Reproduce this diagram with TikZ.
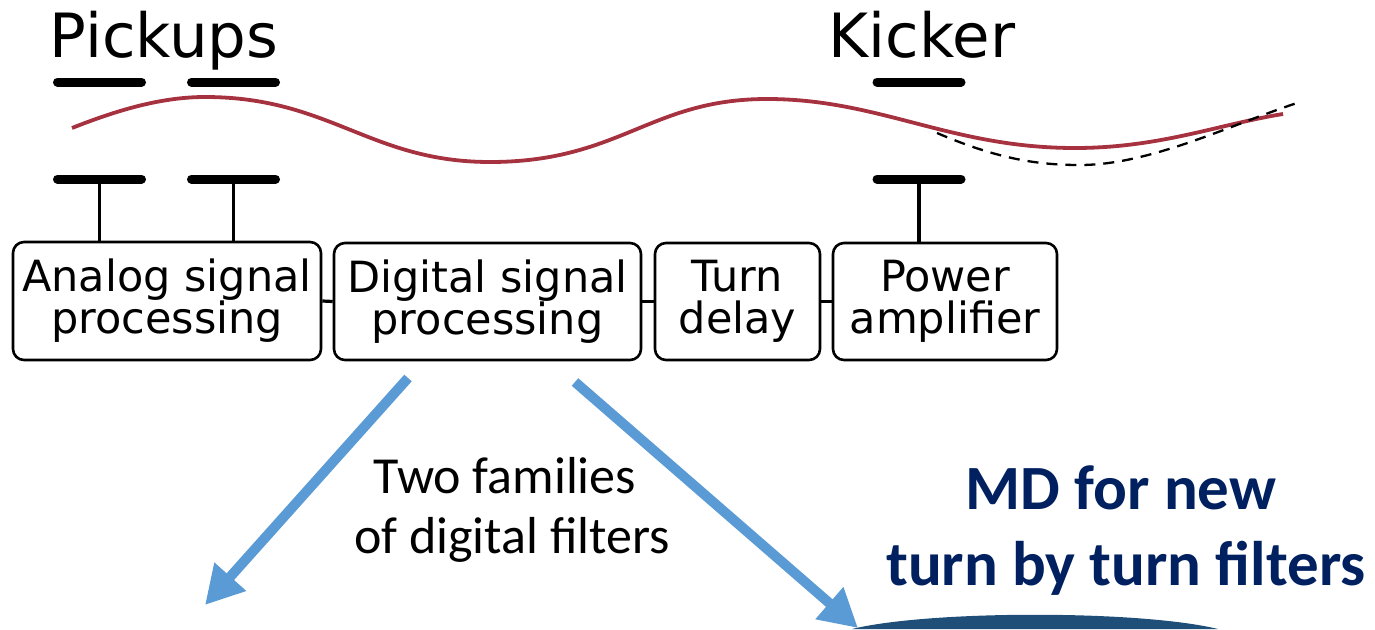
\documentclass[tikz,border=0pt]{standalone}
\usepackage{fontspec}
\newfontfamily\dejavu{DejaVu Sans}
\newfontfamily\calibri{Carlito}
\usetikzlibrary{arrows.meta}
\definecolor{beamred}{RGB}{166,50,64}
\definecolor{arrowblue}{RGB}{91,155,213}
\definecolor{navy}{RGB}{0,32,96}
\definecolor{arcblue}{RGB}{31,78,121}
\tikzset{
  stage/.style={draw, line width=2.6pt, rounded corners=11pt, inner sep=0pt,
    align=center, font=\dejavu\fontsize{43}{42}\selectfont},
  plate/.style={line width=9pt, line cap=round},
  stem/.style={line width=3.2pt},
  link/.style={line width=3.2pt},
  title/.style={anchor=base, inner sep=0pt, font=\dejavu\fontsize{61}{70}\selectfont},
  filterarrow/.style={arrowblue, line width=10pt, -{Triangle[length=38pt,width=40pt]}},
  note/.style={anchor=base, inner sep=0pt, font=\calibri\fontsize{52}{60}\selectfont},
  mdnote/.style={anchor=base, inner sep=0pt, text=navy, font=\calibri\bfseries\fontsize{63}{70}\selectfont}
}
\begin{document}
\begin{tikzpicture}[x=1pt,y=-1pt]
\useasboundingbox (0,0) rectangle (1375,629);

% titles
\node[title] (pickups) at (164,57) {Pickups};
\node[title] (kicker) at (922,57) {Kicker};

% processing chain
\node[stage, minimum width=308pt, minimum height=118pt] (asp) at (167,301) {Analog signal\\processing};
\node[stage, minimum width=307pt, minimum height=117pt] (dsp) at (487.5,301.5) {Digital signal\\processing};
\node[stage, minimum width=165pt, minimum height=117pt] (tdl) at (737.5,301.5) {Turn\\delay};
\node[stage, minimum width=224pt, minimum height=117pt] (pam) at (945,301.5) {Power\\amplifier};
\draw[link] (asp.east) -- (dsp.west);
\draw[link] (dsp.east) -- (tdl.west);
\draw[link] (tdl.east) -- (pam.west);

% electrode plates
\coordinate (p1up) at (99.5,82);
\coordinate (p2up) at (233.5,82);
\coordinate (kup) at (919,82);
\coordinate (p1lo) at (99.5,179);
\coordinate (p2lo) at (233.5,179);
\coordinate (klo) at (919,179);
\foreach \c in {p1up,p2up,kup,p1lo,p2lo,klo}
  \draw[plate] ([xshift=-42pt]\c) -- ([xshift=42pt]\c);
\draw[stem] (p1lo) -- (p1lo |- asp.north);
\draw[stem] (p2lo) -- (p2lo |- asp.north);
\draw[stem] (klo) -- (klo |- pam.north);

% beam oscillation
\coordinate (w0) at (72,128);
\coordinate (w1) at (205,97);
\coordinate (w2) at (490,162);
\coordinate (w3) at (767,99);
\coordinate (w4) at (1075,148);
\coordinate (w5) at (1283,114);
\draw[beamred, line width=3.8pt]
  (w0) .. controls (115,111) and (160,97) .. (w1)
       .. controls (330,97) and (370,162) .. (w2)
       .. controls (620,162) and (650,99) .. (w3)
       .. controls (880,99) and (950,148) .. (w4)
       .. controls (1160,148) and (1220,124) .. (w5);

% uncorrected trajectory
\coordinate (d0) at (937,133);
\coordinate (d1) at (1080,165);
\coordinate (d2) at (1297,103);
\draw[line width=2.3pt, dash pattern=on 11pt off 8pt]
  (d0) .. controls (1000,160) and (1040,165) .. (d1)
       .. controls (1150,165) and (1230,125) .. (d2);

% two families of filters
\coordinate (a1s) at (408,378);
\coordinate (a1e) at (205,605);
\coordinate (a2s) at (575,382);
\coordinate (a2e) at (858,628);
\draw[filterarrow] (a1s) -- (a1e);
\draw[filterarrow] (a2s) -- (a2e);

\node[note] (fam1) at (505,493) {Two families};
\node[note] (fam2) at (512,553) {of digital filters};

\node[mdnote] (md1) at (1121,509) {MD for new};
\node[mdnote] (md2) at (1126,585) {turn by turn filters};

% edge of the panel below
\fill[arcblue] (852,629) .. controls (930,610) and (1140,610) .. (1218,629) -- cycle;
\end{tikzpicture}
\end{document}
